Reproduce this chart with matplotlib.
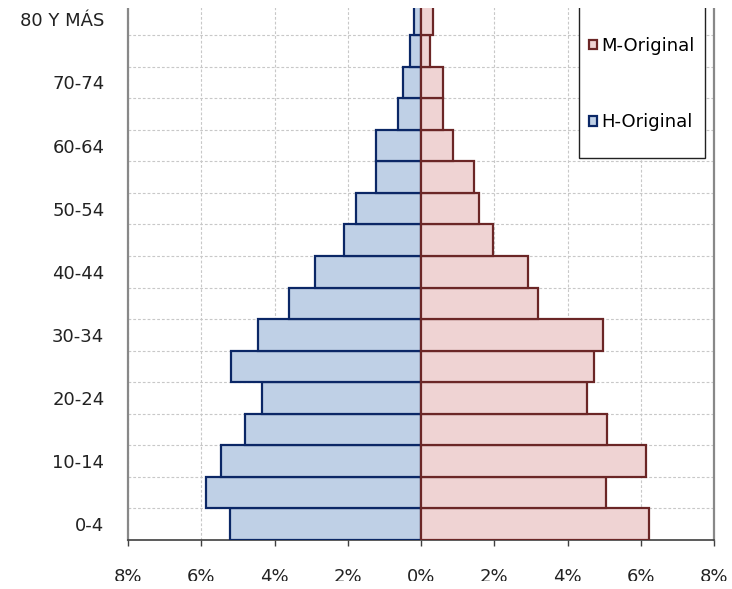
import matplotlib
matplotlib.use("Agg")
import matplotlib.pyplot as plt
from matplotlib.patches import Rectangle, Patch
import numpy as np

plt.rcParams['font.family'] = ['DejaVu Sans']

age_groups = ["0-4", "5-9", "10-14", "15-19", "20-24", "25-29", "30-34", "35-39",
              "40-44", "45-49", "50-54", "55-59", "60-64", "65-69", "70-74", "75-79",
              "80 Y MÁS"]
hombres = [5.22, 5.87, 5.46, 4.81, 4.34, 5.19, 4.45, 3.61, 2.90, 2.10, 1.78, 1.23,
           1.23, 0.63, 0.49, 0.30, 0.19]
mujeres = [6.23, 5.06, 6.15, 5.09, 4.54, 4.71, 4.96, 3.20, 2.93, 1.96, 1.59, 1.46,
           0.88, 0.59, 0.59, 0.25, 0.34]
xticks = [-8, -6, -4, -2, 0, 2, 4, 6, 8]
xticklabels = ["8%", "6%", "4%", "2%", "0%", "2%", "4%", "6%", "8%"]

W, H = 732, 589
fig = plt.figure(figsize=(W / 100, H / 100), dpi=100)
ax = fig.add_axes([128 / W, (H - 540) / H, (714 - 128) / W, (540 - 3.5) / H])

y = np.arange(len(age_groups))
ax.barh(y, [-v for v in hombres], height=1.0, color="#bfd0e6", edgecolor="#0b2766",
        linewidth=1.6, zorder=3, label="H-Original")
ax.barh(y, mujeres, height=1.0, color="#efd3d3", edgecolor="#6b2626",
        linewidth=1.6, zorder=3, label="M-Original")

ax.set_xlim(-8, 8)
ax.set_ylim(-0.5, len(age_groups) - 0.5)
ax.set_xticks(xticks)
ax.set_xticklabels(xticklabels, fontsize=13, color="#222222")
ax.set_yticks(y[::2])
ax.set_yticklabels(age_groups[::2], fontsize=13, color="#222222")
ax.set_yticks(np.arange(-0.5, len(age_groups) + 0.5, 1.0), minor=True)
ax.tick_params(axis='y', which='both', length=0, pad=17)
ax.tick_params(axis='x', length=4.5, width=1.0, color="#404040", pad=16)

ax.grid(True, axis='x', which='major', linestyle=(0, (2.5, 1.8)), color="#c8c8c8", linewidth=0.8, zorder=0)
ax.grid(True, axis='y', which='minor', linestyle=(0, (2.5, 1.8)), color="#c8c8c8", linewidth=0.8, zorder=0)
ax.set_axisbelow(True)

ax.spines['top'].set_visible(False)
ax.spines['left'].set_color("#888888")
ax.spines['left'].set_linewidth(1.6)
ax.spines['right'].set_color("#888888")
ax.spines['right'].set_linewidth(1.6)
ax.spines['bottom'].set_color("#404040")
ax.spines['bottom'].set_linewidth(1.2)

# legend box
fig.patches.append(Rectangle((579 / W, (H - 158) / H), (705 - 579) / W, 160 / H,
                             transform=fig.transFigure, facecolor="white",
                             edgecolor="#222222", linewidth=1.0, zorder=5))
handles = [Patch(facecolor="#efd3d3", edgecolor="#6b2626", linewidth=1.6),
           Patch(facecolor="#bfd0e6", edgecolor="#0b2766", linewidth=1.6)]
leg = fig.legend(handles, ["M-Original", "H-Original"], loc="upper left",
                 bbox_to_anchor=(589 / W, (H - 37) / H), frameon=False,
                 fontsize=13, handlelength=0.45, handleheight=0.45,
                 handletextpad=0.25, labelspacing=3.22, borderpad=0, borderaxespad=0)
leg.set_zorder(6)

# white strips cropping top and bottom edges
fig.patches.append(Rectangle((0, (H - 8) / H), 1, 8 / H, transform=fig.transFigure,
                             facecolor="white", edgecolor="none", zorder=10))
fig.patches.append(Rectangle((0, 0), 1, 8 / H, transform=fig.transFigure,
                             facecolor="white", edgecolor="none", zorder=10))

fig.savefig("out.png", dpi=100)
